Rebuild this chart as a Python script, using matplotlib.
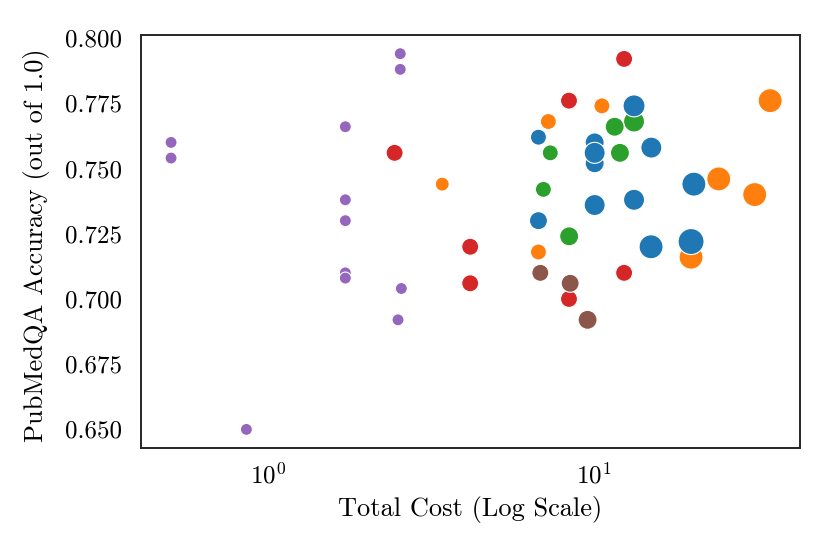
import matplotlib
matplotlib.use("Agg")
import matplotlib.pyplot as plt
import numpy as np

plt.rcParams['font.family'] = 'serif'
plt.rcParams['font.serif'] = ['cmr10']
plt.rcParams['mathtext.fontset'] = 'cm'
plt.rcParams['axes.formatter.use_mathtext'] = True

# group colours (tab10)
groups = ["purple", "red", "orange", "green", "brown", "blue"]
colors = {"purple": "#9467bd", "red": "#d62728", "orange": "#ff7f0e",
          "green": "#2ca02c", "brown": "#8c564b", "blue": "#1f77b4"}

cost = {
    "purple": [0.505, 0.505, 0.86, 1.73, 1.73, 1.73, 1.73, 1.73, 2.55, 2.55, 2.57, 2.51],
    "red": [2.45, 4.18, 4.18, 12.4, 8.40, 12.4, 8.40],
    "orange": [3.43, 10.6, 7.26, 6.77, 24.2, 31.2, 34.8, 19.9],
    "green": [13.3, 11.6, 7.36, 12.04, 7.01, 8.41],
    "brown": [6.86, 8.47, 9.58],
    "blue": [13.3, 6.77, 10.07, 10.07, 10.07, 15.03, 20.3, 10.07, 13.3, 6.77, 15.0, 19.9],
}
accuracy = {
    "purple": [0.760, 0.754, 0.650, 0.766, 0.738, 0.730, 0.710, 0.708, 0.794, 0.788, 0.704, 0.692],
    "red": [0.756, 0.720, 0.706, 0.792, 0.776, 0.710, 0.700],
    "orange": [0.744, 0.774, 0.768, 0.718, 0.746, 0.740, 0.776, 0.716],
    "green": [0.768, 0.766, 0.756, 0.756, 0.742, 0.724],
    "brown": [0.710, 0.706, 0.692],
    "blue": [0.774, 0.762, 0.760, 0.752, 0.756, 0.758, 0.744, 0.736, 0.738, 0.730, 0.720, 0.722],
}
# relative marker size (diameter-like value)
size = {
    "purple": [12] * 12,
    "red": [17] * 7,
    "orange": [14, 16, 16, 16, 24, 24, 24, 24],
    "green": [21, 19, 16, 19, 16, 19],
    "brown": [17, 18, 19],
    "blue": [22, 16, 19, 19, 21, 21, 24, 21, 21, 18, 24, 26],
}

fig = plt.figure(figsize=(8.3, 5.54), dpi=100)
ax = fig.add_axes([0.170, 0.191, 0.794, 0.746])

for g in groups:
    s = (np.array(size[g]) * 0.72) ** 2
    ax.scatter(cost[g], accuracy[g], s=s, c=colors[g], edgecolors="white",
               linewidths=0.8, zorder=2)

ax.set_xscale("log")
ax.set_yticks([0.650, 0.675, 0.700, 0.725, 0.750, 0.775, 0.800])
ax.set_yticklabels(["0.650", "0.675", "0.700", "0.725", "0.750", "0.775", "0.800"])
ax.tick_params(axis="both", which="both", length=0, labelsize=18)
ax.tick_params(axis="y", pad=14)
ax.tick_params(axis="x", pad=10)
ax.minorticks_off()
ax.set_xlabel("Total Cost (Log Scale)", fontsize=19, labelpad=6)
ax.set_ylabel("PubMedQA Accuracy (out of 1.0)", fontsize=19)
ax.yaxis.set_label_coords(-0.138, 0.49)
for sp in ax.spines.values():
    sp.set_color("#262626")
    sp.set_linewidth(1.4)

fig.savefig("out.png", dpi=100)
